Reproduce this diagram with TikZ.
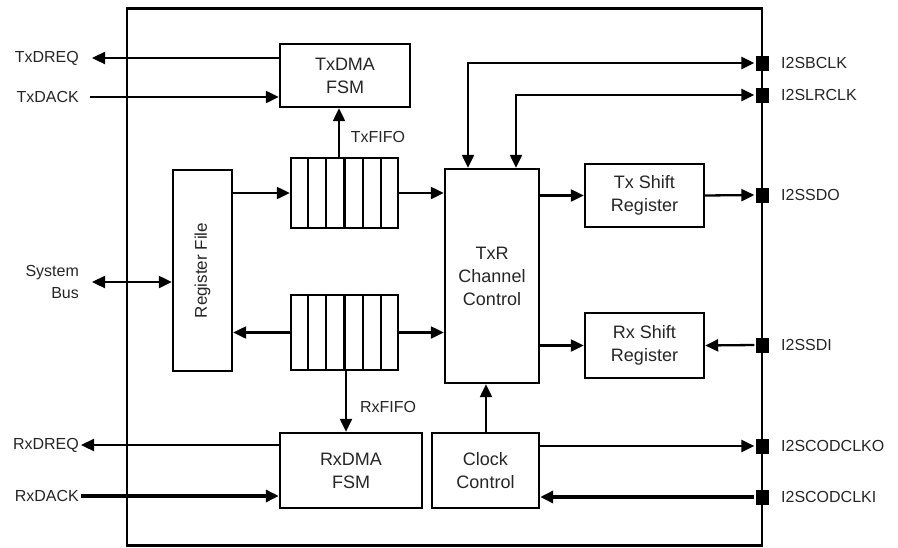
\documentclass[tikz,border=0pt]{standalone}
\usepackage{fontspec}
\setmainfont{Liberation Sans}
\usetikzlibrary{arrows.meta,calc}
\begin{document}
\begin{tikzpicture}[x=1pt,y=-1pt,
  >={Triangle[length=13pt,width=12pt]},
  line width=2.3pt,
  box/.style={draw, line width=2.4pt, inner sep=0pt, align=center,
    font=\fontsize{18}{23}\selectfont, text=black!85},
  lbl/.style={inner sep=0pt, align=right, font=\fontsize{16}{22}\selectfont, text=black!85},
  pin/.style={fill=black, minimum width=13pt, minimum height=15pt, inner sep=0pt},
  heavy/.style={line width=3.6pt}
]
\useasboundingbox (0,0) rectangle (898,547);
\fill[white] (0,0) rectangle (898,547);

% chip outline
\node[draw, line width=2.4pt, minimum width=635pt, minimum height=537pt, inner sep=0pt] (chip) at (444.5,277) {};

% blocks
\node[box, minimum width=130pt, minimum height=63pt] (txdma) at (345,75.5) {TxDMA\\FSM};
\node[box, minimum width=107pt, minimum height=70pt] (fifoT) at (344.5,193) {};
\node[box, minimum width=107pt, minimum height=75pt] (fifoR) at (344.5,332.5) {};
\node[box, minimum width=59pt, minimum height=201pt] (reg) at (202.5,270.5) {};
\node[font=\fontsize{17}{20}\selectfont, text=black!85, rotate=90] (regt) at (reg.center) {Register File};
\node[box, minimum width=94pt, minimum height=214pt] (txr) at (492,276) {TxR\\Channel\\Control};
\node[box, minimum width=119pt, minimum height=63pt] (txsh) at (644.5,195.5) {Tx Shift\\Register};
\node[box, minimum width=119pt, minimum height=65pt] (rxsh) at (644.5,345.5) {Rx Shift\\Register};
\node[box, minimum width=142pt, minimum height=75pt] (rxdma) at (351,470.5) {RxDMA\\FSM};
\node[box, minimum width=107pt, minimum height=75pt] (clk) at (485.5,470.5) {Clock\\Control};

% FIFO cells
\foreach \f in {fifoT,fifoR}{
  \foreach \i in {1,...,5}{
    \draw[line width=2.4pt] ($(\f.north west)!\i/6!(\f.north east)$) -- ($(\f.south west)!\i/6!(\f.south east)$);
  }
}

% pins
\foreach \n/\y in {pbclk/63, plrclk/95, psdo/195, psdi/345, pcodo/446, pcodi/497}{
  \node[pin] (\n) at (762,\y) {};
}
\node[lbl, anchor=west] (lbclk) at (780,63) {I2SBCLK};
\node[lbl, anchor=west] (llrclk) at (780,95) {I2SLRCLK};
\node[lbl, anchor=west] (lsdo) at (780,195) {I2SSDO};
\node[lbl, anchor=west] (lsdi) at (780,345) {I2SSDI};
\node[lbl, anchor=west] (lcodo) at (780,446) {I2SCODCLKO};
\node[lbl, anchor=west] (lcodi) at (780,497) {I2SCODCLKI};

% left labels
\node[lbl, anchor=east] (ltxdreq) at (80,58) {TxDREQ};
\node[lbl, anchor=east] (ltxdack) at (80,97) {TxDACK};
\node[lbl, anchor=east] (lsys) at (80,282) {System\\Bus};
\node[lbl, anchor=east] (lrxdreq) at (80,445) {RxDREQ};
\node[lbl, anchor=east] (lrxdack) at (80,496) {RxDACK};
\node[lbl] (ltxfifo) at (378,137) {TxFIFO};
\node[lbl] (lrxfifo) at (388,407) {RxFIFO};

\coordinate (etxdreq) at (92,58);
\coordinate (etxdack) at (90,97);
\coordinate (esys) at (92,282);
\coordinate (erxdreq) at (81,445);
\coordinate (erxdack) at (81,496);

% connectors
\draw[->] (txdma.west |- etxdreq) -- (etxdreq);
\draw[->] (etxdack) -- (txdma.west |- etxdack);
\draw[<->] (esys) -- (reg.west |- esys);
\draw[->] (fifoT.north -| 339,0) -- (txdma.south -| 339,0);
\draw[->] (reg.east |- fifoT.west) -- (fifoT.west);
\draw[->] (fifoT.east) -- (txr.west |- fifoT.east);
\draw[->] (fifoR.west) -- (reg.east |- fifoR.west);
\draw[->] (fifoR.east) -- (txr.west |- fifoR.east);
\draw[->] (fifoR.south -| 346,0) -- (rxdma.north -| 346,0);
\draw[->] (txr.east |- txsh.west) -- (txsh.west);
\draw[->] (txr.east |- rxsh.west) -- (rxsh.west);
\draw[->] (txsh.east) -- (psdo.west);
\draw[->] (psdi.west) -- (rxsh.east);
\draw[<->] (pbclk.west) -| (txr.north -| 468,0);
\draw[<->] (plrclk.west) -| (txr.north -| 516,0);
\draw[->] (clk.north -| 486,0) -- (txr.south -| 486,0);
\draw[->] (clk.east |- pcodo.west) -- (pcodo.west);
\draw[->, heavy] (pcodi.west) -- (clk.east |- pcodi.west);
\draw[->] (rxdma.west |- erxdreq) -- (erxdreq);
\draw[->, heavy] (erxdack) -- (rxdma.west |- erxdack);
\end{tikzpicture}
\end{document}
